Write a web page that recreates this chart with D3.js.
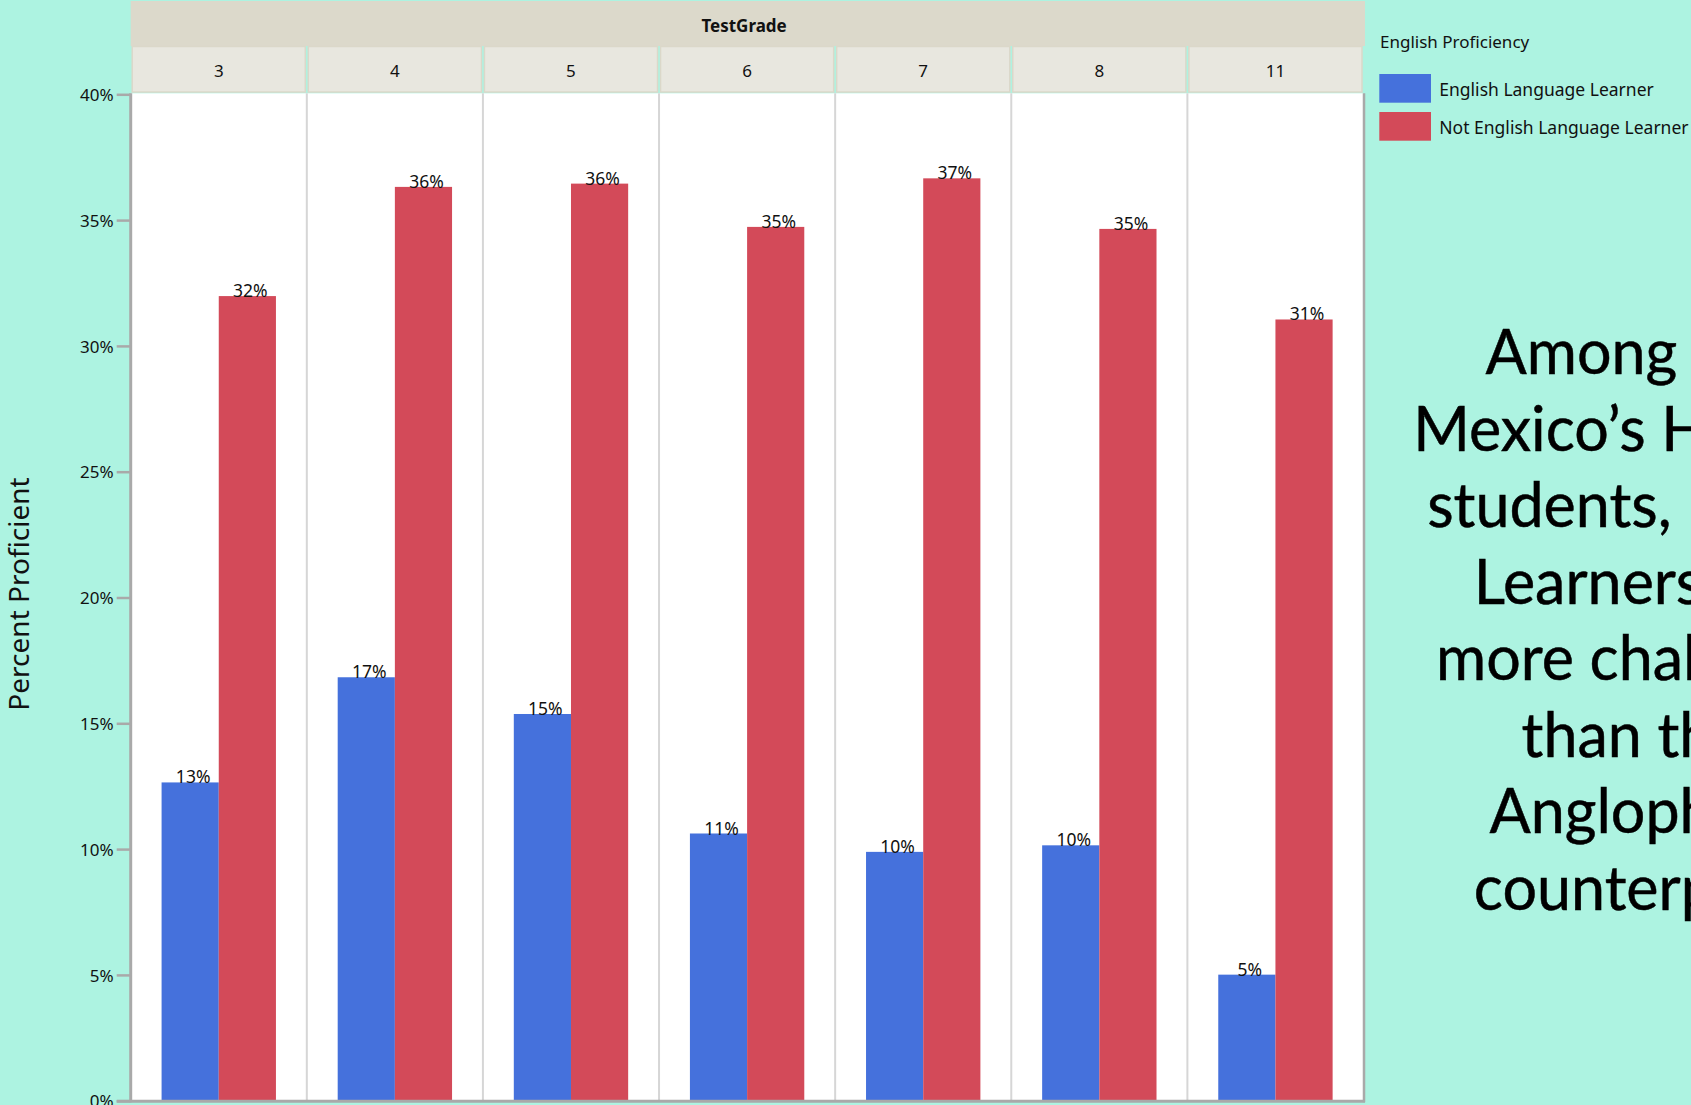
<!DOCTYPE html>
<html>
<head>
<meta charset="utf-8">
<script src="https://cdn.jsdelivr.net/npm/d3@7"></script>
<style>
  html, body { margin: 0; padding: 0; overflow: hidden; background: #adf3e1; }
  svg { display: block; }
</style>
</head>
<body>
<svg id="chart" width="1691" height="1105"></svg>
<script>
// Percent proficient by test grade, split by English proficiency
const grades = ["3", "4", "5", "6", "7", "8", "11"];
const seriesNames = ["English Language Learner", "Not English Language Learner"];
const ellValues = [12.65, 16.83, 15.37, 10.62, 9.89, 10.15, 5.01];
const notEllValues = [31.98, 36.32, 36.45, 34.73, 36.66, 34.65, 31.05];
const yTicks = [0, 5, 10, 15, 20, 25, 30, 35, 40];
const seriesColors = ["#4571dc", "#d34a59"];
const calloutLines = [
  "Among New",
  "Mexico\u2019s Hispanic",
  "students, English",
  "Learners face",
  "more challenges",
  "than their",
  "Anglophone",
  "counterparts."
];

const rows = grades.map((g, i) => ({
  grade: g,
  values: [
    { series: seriesNames[0], value: ellValues[i] },
    { series: seriesNames[1], value: notEllValues[i] }
  ]
}));

const svg = d3.select("#chart");
const W = 1691, H = 1105;
const plot = { left: 130.7, right: 1363.5, top: 94.3, bottom: 1100.7 };
const uiFont = "'Noto Sans', 'Open Sans', sans-serif";

svg.append("rect").attr("width", W).attr("height", H).attr("fill", "#adf3e1");

const x0 = d3.scaleBand().domain(grades).range([plot.left, plot.right]);
const x1 = d3.scaleBand().domain(seriesNames).range([0, x0.bandwidth()])
  .paddingInner(0).paddingOuter(0.54);
const y = d3.scaleLinear().domain([0, 40]).range([plot.bottom, plot.top]);
const color = d3.scaleOrdinal().domain(seriesNames).range(seriesColors);

// Header: outer group title strip
svg.append("rect")
  .attr("x", plot.left).attr("y", 1)
  .attr("width", plot.right - plot.left + 1.5).attr("height", 45)
  .attr("fill", "#dcd9cb");
svg.append("text")
  .attr("x", (plot.left + plot.right) / 2 - 3).attr("y", 31.5)
  .attr("text-anchor", "middle")
  .attr("font-family", uiFont).attr("font-weight", "bold").attr("font-size", 17)
  .attr("fill", "#111")
  .text("TestGrade");

// Header: one cell per grade
const cells = svg.append("g").selectAll("g").data(grades).join("g");
cells.append("rect")
  .attr("x", d => x0(d) + 1.5).attr("y", 46.5)
  .attr("width", x0.bandwidth() - 3).attr("height", 45.5)
  .attr("fill", "#e8e7df").attr("stroke", "#dbd8c9").attr("stroke-width", 1.5);
cells.append("text")
  .attr("x", d => x0(d) + x0.bandwidth() / 2).attr("y", 76.5)
  .attr("text-anchor", "middle")
  .attr("font-family", uiFont).attr("font-size", 17)
  .attr("fill", "#111")
  .text(d => d);

// Plot background
svg.append("rect")
  .attr("x", plot.left).attr("y", plot.top - 1)
  .attr("width", plot.right - plot.left).attr("height", plot.bottom - plot.top + 1)
  .attr("fill", "#ffffff");

// Panel separators
svg.append("g").selectAll("line").data(grades.slice(1)).join("line")
  .attr("x1", d => x0(d)).attr("x2", d => x0(d))
  .attr("y1", plot.top - 1).attr("y2", plot.bottom)
  .attr("stroke", "#d6d6d6").attr("stroke-width", 2);

// Bars
const groups = svg.append("g").selectAll("g").data(rows).join("g")
  .attr("transform", d => `translate(${x0(d.grade)},0)`);
groups.selectAll("rect").data(d => d.values).join("rect")
  .attr("x", d => x1(d.series))
  .attr("y", d => y(d.value))
  .attr("width", x1.bandwidth())
  .attr("height", d => y(0) - y(d.value))
  .attr("fill", d => color(d.series));

// Value labels
groups.selectAll("text").data(d => d.values).join("text")
  .attr("x", d => x1(d.series) + x1.bandwidth() / 2 + 3)
  .attr("y", d => y(d.value) + 1)
  .attr("text-anchor", "middle")
  .attr("font-family", uiFont).attr("font-size", 17.5)
  .attr("fill", "#111")
  .text(d => Math.round(d.value) + "%");

// Frame: right border and baseline
svg.append("line")
  .attr("x1", plot.right + 0.5).attr("x2", plot.right + 0.5)
  .attr("y1", plot.top - 1).attr("y2", plot.bottom + 1.5)
  .attr("stroke", "#a9a9a9").attr("stroke-width", 2.5);
svg.append("line")
  .attr("x1", plot.left - 14).attr("x2", plot.right + 1.5)
  .attr("y1", plot.bottom + 0.5).attr("y2", plot.bottom + 0.5)
  .attr("stroke", "#a9a9a9").attr("stroke-width", 3);

// Y axis
const yAxis = svg.append("g")
  .attr("transform", `translate(${plot.left},0)`)
  .call(d3.axisLeft(y).tickValues(yTicks).tickFormat(d => d + "%").tickSize(14).tickPadding(3));
yAxis.select(".domain")
  .attr("d", `M0,${plot.top - 1}V${plot.bottom + 1.5}`)
  .attr("stroke", "#a9a9a9").attr("stroke-width", 3);
yAxis.selectAll(".tick line").attr("stroke", "#a9a9a9").attr("stroke-width", 2.5);
yAxis.selectAll(".tick text")
  .attr("font-family", uiFont).attr("font-size", 17).attr("fill", "#111")
  .attr("dy", "0.36em");

svg.append("text")
  .attr("transform", `translate(29,594) rotate(-90)`)
  .attr("text-anchor", "middle")
  .attr("font-family", uiFont).attr("font-size", 28)
  .attr("fill", "#111")
  .text("Percent Proficient");

// Legend
const legend = svg.append("g");
legend.append("text")
  .attr("x", 1380).attr("y", 48)
  .attr("font-family", uiFont).attr("font-size", 17)
  .attr("fill", "#111")
  .text("English Proficiency");
const items = legend.selectAll("g.item").data(seriesNames).join("g")
  .attr("class", "item")
  .attr("transform", (d, i) => `translate(1379.3,${74 + i * 38})`);
items.append("rect")
  .attr("width", 51.7).attr("height", 28.7)
  .attr("fill", d => color(d));
items.append("text")
  .attr("x", 60).attr("y", 21.5)
  .attr("font-family", uiFont).attr("font-size", 17.5)
  .attr("fill", "#111")
  .text(d => d);

// Callout text beside the chart
svg.append("g").selectAll("text").data(calloutLines).join("text")
  .attr("x", 1652)
  .attr("y", (d, i) => 374 + i * 76.5)
  .attr("text-anchor", "middle")
  .attr("font-family", "Lato, 'Open Sans', sans-serif").attr("font-size", 61)
  .attr("fill", "#000").attr("stroke", "#000").attr("stroke-width", 0.5)
  .text(d => d);
</script>
</body>
</html>
